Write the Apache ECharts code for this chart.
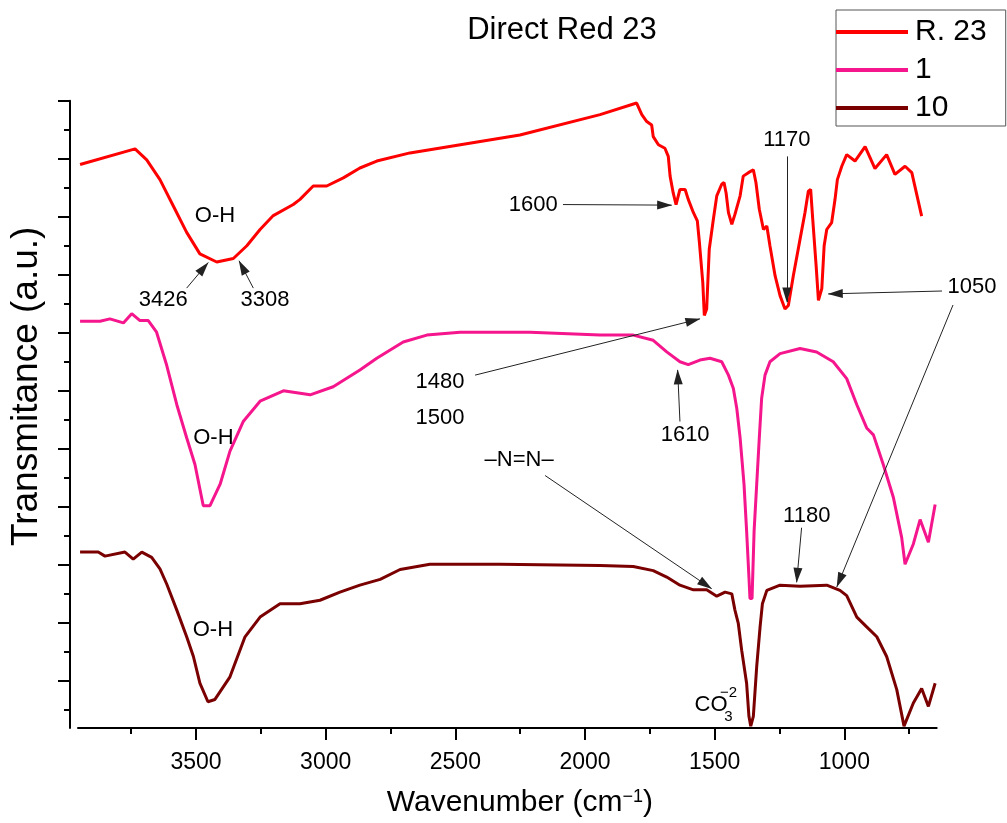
<!DOCTYPE html>
<html>
<head>
<meta charset="utf-8">
<script src="https://cdn.jsdelivr.net/npm/echarts@6/dist/echarts.min.js"></script>
<style>html,body{margin:0;padding:0;background:#fff;}#c{width:1007px;height:823px;}</style>
</head>
<body>
<div id="c"></div>
<script>
// ---- data (wavenumber in cm^-1, transmittance in arbitrary offset units) ----
const r23Wn = [3947,3735,3690,3639,3587,3536,3485,3420,3356,3304,3253,3202,3125,3099,3048,2996,2932,2868,2803,2675,2251,1942,1801,1781,1762,1743,1737,1717,1692,1679,1672,1660,1649,1634,1614,1602,1582,1567,1559,1546,1540,1531,1521,1505,1492,1473,1464,1456,1447,1434,1422,1402,1390,1370,1351,1341,1328,1312,1299,1287,1267,1248,1229,1216,1197,1171,1152,1139,1130,1122,1109,1100,1087,1078,1068,1049,1036,1027,1010,991,959,920,882,837,805,766,740,702];
const r23T = [89.0,91.7,89.8,86.4,81.8,77.3,73.6,72.2,72.8,75.0,77.8,80.2,82.1,83.0,85.3,85.3,86.7,88.4,89.6,91.0,94.1,97.6,99.6,97.6,96.4,95.8,93.8,92.4,91.8,90.4,87.0,84.1,82.1,84.7,84.7,83.0,80.7,79.3,75.6,68.7,63.0,64.1,74.4,79.6,83.6,85.6,85.9,84.1,80.7,78.7,80.4,83.6,87.0,87.6,88.1,85.9,81.3,77.8,78.4,75.0,69.8,66.4,64.1,64.7,69.8,76.1,80.7,84.4,84.7,79.6,71.6,65.6,67.6,75.0,77.8,79.0,83.0,86.4,88.7,90.7,89.6,92.1,88.3,90.7,87.3,88.7,87.6,80.1];

const s1Wn = [3947,3870,3832,3780,3748,3716,3684,3652,3613,3574,3536,3504,3472,3446,3407,3369,3318,3253,3163,3060,2971,2868,2803,2701,2610,2482,2212,1942,1814,1737,1685,1634,1602,1557,1518,1473,1447,1428,1415,1402,1387,1377,1368,1364,1356,1348,1338,1328,1319,1306,1287,1248,1171,1107,1043,991,952,914,888,850,811,779,766,734,708,676,650];
const s1T = [62.0,62.0,62.4,61.7,63.3,62.1,62.1,60.1,54.4,47.6,41.9,37.3,30.2,30.2,33.9,39.6,44.7,48.2,50.0,49.3,50.7,53.6,55.6,58.4,59.6,60.1,60.1,59.6,59.6,58.7,56.7,55.0,54.5,55.3,55.6,55.0,52.7,50.4,47.0,41.9,33.9,25.9,17.9,14.2,14.2,25.9,33.9,41.9,48.7,52.7,55.0,56.4,57.3,56.7,55.0,52.1,47.6,43.6,42.4,37.3,31.6,24.7,20.1,23.6,27.8,23.9,30.4];

const s10Wn = [3947,3877,3851,3774,3742,3709,3671,3639,3613,3574,3536,3510,3485,3454,3427,3369,3311,3253,3176,3099,3022,2945,2868,2790,2713,2598,2328,1942,1814,1737,1685,1634,1582,1531,1492,1460,1434,1422,1409,1396,1377,1368,1361,1351,1338,1325,1316,1299,1248,1171,1068,1017,991,952,914,875,837,798,770,734,702,676,650];
const s10T = [22.2,22.2,21.5,22.2,21.0,22.2,21.3,19.3,16.7,12.2,7.6,4.2,-0.4,-3.6,-3.2,0.7,7.6,11.0,13.3,13.3,13.9,15.3,16.5,17.5,19.2,20.1,20.1,19.9,19.7,19.0,17.9,16.5,15.7,15.7,14.6,15.3,15.0,12.2,9.9,5.3,-0.4,-6.1,-7.8,-6.1,2.5,9.3,13.3,15.6,16.5,16.3,16.5,15.6,14.7,11.0,9.3,7.6,4.2,-1.5,-7.8,-3.8,-1.3,-4.4,-0.4];

const seriesNames = ['R. 23', '1', '10'];
const xMajorTicks = [3500, 3000, 2500, 2000, 1500, 1000];
const xMinorTicks = [3750, 3250, 2750, 2250, 1750, 1250, 750];
const yMajorTicks = [0, 10, 20, 30, 40, 50, 60, 70, 80, 90, 100];
const yMinorTicks = [-5, 5, 15, 25, 35, 45, 55, 65, 75, 85, 95];
const xRange = [644, 3955];
const yRange = [-8.12, 100];

// annotation anchors (data coordinates)
const r23Notes = [['O-H', 3427, 80.1], ['3426', 3626, 65.6], ['3308', 3234, 65.6], ['1600', 2200, 82.1], ['1170', 1222, 93.3], ['1480', 2559, 51.6], ['1500', 2559, 45.3]];
const r23Arrows = [[3536, 67.7, 3453, 72.1], [3279, 67.7, 3334, 72.4], [2085, 82.1, 1666, 82.0], [1222, 90.4, 1222, 65.3], [2424, 52.7, 1557, 62.4]];
const s1Notes = [['O-H', 3433, 41.9], ['1610', 1614, 42.4]];
const s1Arrows = [[1634, 44.7, 1643, 53.6]];
const s10Notes = [['O-H', 3435, 8.8], ['\u2013N=N\u2013', 2254, 38.1], ['1180', 1145, 28.4]];
const s10Arrows = [[2154, 35.4, 1512, 15.9], [1165, 26.4, 1184, 17.0]];

// ---- build ----
const FONT = '"Liberation Sans", Arial, sans-serif';
const zip = (a, b) => a.map((v, i) => [v, b[i]]);
const note = (n) => ({ name: n[0], coord: [n[1], n[2]] });
const HEAD = { symbol: 'triangle', symbolSize: [9, 15], symbolOffset: [0, 7] };
const TAIL = { symbol: 'none' };
const arrowEnds = (from, to) => [Object.assign({}, TAIL, from), Object.assign({}, HEAD, to)];
const arrow = (a) => arrowEnds({ coord: [a[0], a[1]] }, { coord: [a[2], a[3]] });

function markers(notes, arrows) {
  return {
    markPoint: {
      symbol: 'rect', symbolSize: 1, itemStyle: { color: 'rgba(0,0,0,0)' }, silent: true, animation: false,
      label: { show: true, position: 'inside', formatter: '{b}', color: '#000', fontSize: 22, fontFamily: FONT },
      data: notes
    },
    markLine: {
      silent: true, animation: false,
      symbol: ['none', 'triangle'], symbolSize: 12,
      label: { show: false },
      itemStyle: { color: '#000' },
      lineStyle: { color: '#222', width: 1, type: 'solid' },
      emphasis: { disabled: true },
      data: arrows
    }
  };
}

const redMarks = markers(
  r23Notes.map(note).concat([{ name: '1050', x: 972, y: 287 }]),
  r23Arrows.map(arrow).concat([arrowEnds({ x: 942, y: 291 }, { coord: [1062, 66.7] })])
);
const pinkMarks = markers(s1Notes.map(note), s1Arrows.map(arrow));
const brownMarks = markers(
  s10Notes.map(note).concat([
    { name: 'CO', coord: [1514, -4.15] },
    { name: '3', coord: [1447, -6.12], label: { fontSize: 15 } },
    { name: '\u22122', coord: [1447, -2.12], label: { fontSize: 15 } }
  ]),
  s10Arrows.map(arrow).concat([arrowEnds({ x: 953, y: 305 }, { coord: [1029, 16.2] })])
);

const colors = ['#ff0000', '#f5158c', '#7a0000'];
const lineSeries = (name, data, color, mk) => Object.assign({
  type: 'line', name, data, showSymbol: false, symbol: 'none',
  lineStyle: { color, width: 3 }, itemStyle: { color }, animation: false, clip: false,
  xAxisIndex: 0, yAxisIndex: 0
}, mk);

const option = {
  textStyle: { fontFamily: FONT },
  animation: false,
  title: {
    text: 'Direct Red 23', left: 562, top: 15, textAlign: 'center', padding: 0,
    textStyle: { fontSize: 31, fontWeight: 'normal', color: '#000', fontFamily: FONT }
  },
  legend: {
    data: seriesNames, orient: 'vertical', left: 836, top: 10,
    icon: 'rect', itemWidth: 72, itemHeight: 4, itemGap: 8,
    padding: [7, 19, 3, 0], borderColor: '#555', borderWidth: 1,
    textStyle: { fontSize: 30, lineHeight: 30, color: '#000', fontFamily: FONT, padding: [0, 0, 0, 2] },
    selectedMode: false
  },
  grid: { left: 78, right: 70.3, top: 100.7, bottom: 91.3, containLabel: false },
  xAxis: [
    {
      type: 'value', inverse: true, min: xRange[0], max: xRange[1], position: 'bottom',
      name: '{a|Wavenumber (cm}{s|\u22121}{a|)}', nameLocation: 'middle', nameGap: 60,
      nameTextStyle: {
        fontSize: 30, color: '#000', fontFamily: FONT, padding: [0, 0, 0, 25],
        rich: { a: { fontSize: 30, color: '#000', fontFamily: FONT }, s: { fontSize: 18, color: '#000', fontFamily: FONT, verticalAlign: 'top' } }
      },
      axisLine: { show: true, onZero: false, lineStyle: { color: '#000', width: 2 } },
      axisTick: { show: true, inside: false, length: 12, customValues: xMajorTicks, lineStyle: { color: '#000', width: 2 } },
      axisLabel: { show: true, customValues: xMajorTicks, formatter: (v) => String(v), margin: 23, fontSize: 23, color: '#000', fontFamily: FONT },
      splitLine: { show: false }
    },
    {
      type: 'value', inverse: true, min: xRange[0], max: xRange[1], position: 'bottom', offset: 0,
      axisLine: { show: false, onZero: false },
      axisTick: { show: true, inside: false, length: 6, customValues: xMinorTicks, lineStyle: { color: '#000', width: 2 } },
      axisLabel: { show: false },
      splitLine: { show: false }
    }
  ],
  yAxis: [
    {
      type: 'value', min: yRange[0], max: yRange[1], position: 'left', offset: 8,
      name: 'Transmitance (a.u.)', nameLocation: 'middle', nameRotate: 90, nameGap: 25,
      nameTextStyle: { fontSize: 37, color: '#000', fontFamily: FONT, padding: [0, 0, 0, 56] },
      axisLine: { show: true, onZero: false, lineStyle: { color: '#000', width: 2 } },
      axisTick: { show: true, inside: false, length: 12, customValues: yMajorTicks, lineStyle: { color: '#000', width: 2 } },
      axisLabel: { show: false },
      splitLine: { show: false }
    },
    {
      type: 'value', min: yRange[0], max: yRange[1], position: 'left', offset: 8,
      axisLine: { show: false, onZero: false },
      axisTick: { show: true, inside: false, length: 6, customValues: yMinorTicks, lineStyle: { color: '#000', width: 2 } },
      axisLabel: { show: false },
      splitLine: { show: false }
    }
  ],
  series: [
    lineSeries(seriesNames[0], zip(r23Wn, r23T), colors[0], redMarks),
    lineSeries(seriesNames[1], zip(s1Wn, s1T), colors[1], pinkMarks),
    lineSeries(seriesNames[2], zip(s10Wn, s10T), colors[2], brownMarks)
  ]
};

const chart = echarts.init(document.getElementById('c'), null, { renderer: 'canvas' });
chart.setOption(option);
</script>
</body>
</html>
